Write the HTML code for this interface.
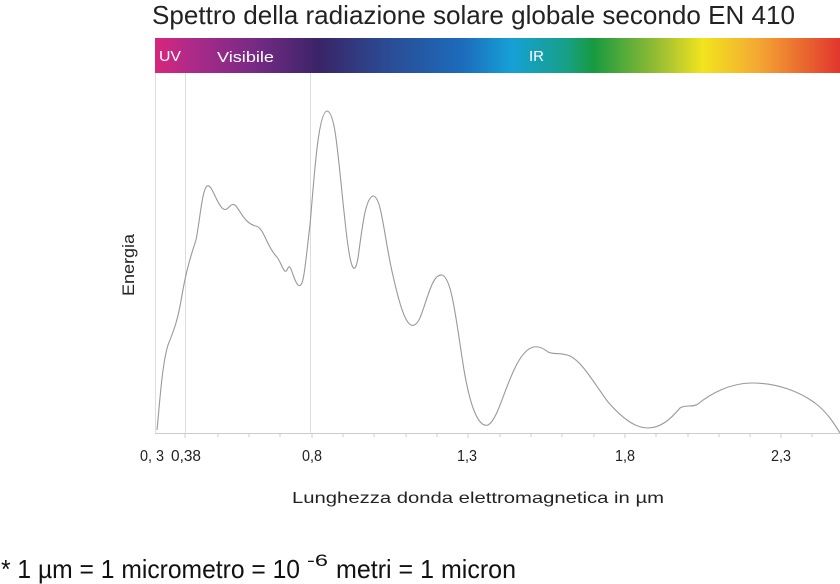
<!DOCTYPE html>
<html><head><meta charset="utf-8"><style>body{margin:0;background:#fff}svg{display:block}</style></head>
<body>
<svg width="840" height="584" viewBox="0 0 840 584" xmlns="http://www.w3.org/2000/svg" font-family="Liberation Sans, sans-serif">
<defs>
<linearGradient id="g" x1="155" y1="0" x2="840" y2="0" gradientUnits="userSpaceOnUse">
<stop offset="0" stop-color="#d8267c"/>
<stop offset="0.05" stop-color="#b02a88"/>
<stop offset="0.14" stop-color="#7a2a86"/>
<stop offset="0.24" stop-color="#3a2468"/>
<stop offset="0.33" stop-color="#2c4890"/>
<stop offset="0.45" stop-color="#1c6cbc"/>
<stop offset="0.52" stop-color="#16a0d6"/>
<stop offset="0.60" stop-color="#17a088"/>
<stop offset="0.64" stop-color="#179a40"/>
<stop offset="0.74" stop-color="#a0c032"/>
<stop offset="0.80" stop-color="#f2e41e"/>
<stop offset="0.88" stop-color="#f4a832"/>
<stop offset="1" stop-color="#e2362e"/>
</linearGradient>
</defs>
<text x="152" y="24" font-size="26" textLength="643" lengthAdjust="spacingAndGlyphs" fill="#222">Spettro della radiazione solare globale secondo EN 410</text>
<rect x="155" y="38" width="685" height="35" fill="url(#g)"/>
<text x="159" y="61" font-size="15" fill="#fff" textLength="22" lengthAdjust="spacingAndGlyphs">UV</text>
<text x="217" y="62" font-size="15" fill="#fff" textLength="57" lengthAdjust="spacingAndGlyphs">Visibile</text>
<text x="529" y="61" font-size="15" fill="#fff">IR</text>
<g stroke="#ddd" stroke-width="1">
<line x1="155.5" y1="73" x2="155.5" y2="433"/>
<line x1="185.5" y1="73" x2="185.5" y2="433"/>
<line x1="310.5" y1="73" x2="310.5" y2="433"/>
</g>
<line x1="155" y1="433.5" x2="840" y2="433.5" stroke="#ccc"/>
<g stroke="#ccc">
<line x1="185" y1="433" x2="185" y2="438"/><line x1="218" y1="433" x2="218" y2="437"/><line x1="249" y1="433" x2="249" y2="437"/><line x1="280" y1="433" x2="280" y2="437"/><line x1="312" y1="433" x2="312" y2="438"/><line x1="343" y1="433" x2="343" y2="437"/><line x1="374" y1="433" x2="374" y2="437"/><line x1="406" y1="433" x2="406" y2="437"/><line x1="437" y1="433" x2="437" y2="437"/><line x1="468" y1="433" x2="468" y2="438"/><line x1="500" y1="433" x2="500" y2="437"/><line x1="531" y1="433" x2="531" y2="437"/><line x1="562" y1="433" x2="562" y2="437"/><line x1="594" y1="433" x2="594" y2="437"/><line x1="625" y1="433" x2="625" y2="438"/><line x1="656" y1="433" x2="656" y2="437"/><line x1="688" y1="433" x2="688" y2="437"/><line x1="719" y1="433" x2="719" y2="437"/><line x1="750" y1="433" x2="750" y2="437"/><line x1="781" y1="433" x2="781" y2="438"/><line x1="812" y1="433" x2="812" y2="437"/>
</g>
<path fill="none" stroke="#999" stroke-width="1.1" d="M157,430 C160,400 162,365 168,345 C174,330 178,320 182,295 C186,272 190,258 196,240 C200,220 202,190 207,186 C212,184 215,200 222,208 C228,214 230,200 236,206 C242,214 246,224 256,226 C264,228 266,245 276,256 C282,262 284,278 288,268 C291,262 293,280 298,285 C304,290 305,265 310,225 C314,180 318,112 327,111 C336,112 338,160 346,230 C350,265 354,280 358,258 C362,230 365,198 373,196 C382,196 384,240 394,280 C402,315 410,338 420,318 C428,298 432,274 442,275 C452,278 456,320 464,370 C470,405 478,428 488,425 C498,420 505,385 518,362 C528,345 537,343 548,352 C554,355 560,352 570,356 C582,362 592,380 608,402 C622,418 635,428 648,428 C660,428 670,420 680,408 C686,404 692,408 698,404 C710,394 730,383 752,383 C778,383 800,392 815,403 C828,413 835,425 840,433"/>
<g font-size="16" fill="#222" text-anchor="middle">
<text x="152" y="461" textLength="24" lengthAdjust="spacingAndGlyphs">0, 3</text>
<text x="186" y="461" textLength="30" lengthAdjust="spacingAndGlyphs">0,38</text>
<text x="312" y="461" textLength="20" lengthAdjust="spacingAndGlyphs">0,8</text>
<text x="467" y="461" textLength="20" lengthAdjust="spacingAndGlyphs">1,3</text>
<text x="625" y="461" textLength="20" lengthAdjust="spacingAndGlyphs">1,8</text>
<text x="781" y="461" textLength="20" lengthAdjust="spacingAndGlyphs">2,3</text>
</g>
<text x="478" y="503" font-size="16" fill="#222" text-anchor="middle" textLength="372" lengthAdjust="spacingAndGlyphs">Lunghezza donda elettromagnetica in µm</text>
<text transform="translate(134,265) rotate(-90)" font-size="17" fill="#222" text-anchor="middle" textLength="62" lengthAdjust="spacingAndGlyphs">Energia</text>
<text x="1" y="578" font-size="26" fill="#111" textLength="299" lengthAdjust="spacingAndGlyphs">* 1 µm = 1 micrometro = 10</text>
<text x="307" y="566" font-size="17" fill="#111" textLength="21" lengthAdjust="spacingAndGlyphs">-6</text>
<text x="336" y="578" font-size="26" fill="#111" textLength="180" lengthAdjust="spacingAndGlyphs">metri = 1 micron</text>
</svg>
</body></html>
